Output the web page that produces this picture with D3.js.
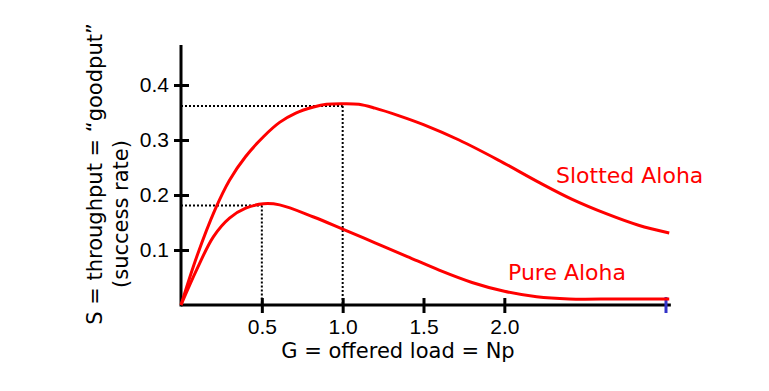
<!DOCTYPE html>
<html>
<head>
<meta charset="utf-8">
<script src="https://cdn.jsdelivr.net/npm/d3@7/dist/d3.min.js"></script>
<style>
body{margin:0;background:#fff;}
</style>
</head>
<body>
<svg id="chart" width="769" height="391"></svg>
<script>
// values
var slottedG = [0,0.1,0.21,0.3,0.4,0.51,0.61,0.71,0.82,0.9,1.0,1.1,1.2,1.35,1.5,1.72,1.96,2.22,2.42,2.63,2.83,3.02];
var slottedS = [0,0.09,0.173,0.227,0.27,0.306,0.332,0.349,0.36,0.365,0.366,0.365,0.358,0.344,0.328,0.3,0.264,0.222,0.192,0.166,0.145,0.131];
var pureG = [0,0.1,0.2,0.3,0.4,0.51,0.61,0.82,1.0,1.2,1.4,1.6,1.8,2.0,2.2,2.4,2.7,3.02];
var pureS = [0,0.066,0.124,0.158,0.176,0.184,0.182,0.16,0.138,0.113,0.088,0.063,0.041,0.025,0.015,0.011,0.011,0.011];
var xTicks = [0.5,1.0,1.5,2.0];
var xTickLabels = ["0.5","1.0","1.5","2.0"];
var yTicks = [0.1,0.2,0.3,0.4];
var yTickLabels = ["0.1","0.2","0.3","0.4"];
var peakG = [1.0,0.5];
var peakS = [0.362,0.181];
var endMark = 3.0;

var svg = d3.select("#chart");

var x = d3.scaleLinear().domain([0,3]).range([181,666]);
var y = d3.scaleLinear().domain([0,0.4]).range([305,85]);

// dotted guides to the maxima
var guides = svg.append("g")
	.attr("stroke","#000")
	.attr("stroke-width",2)
	.attr("stroke-dasharray","2,2")
	.attr("fill","none");
for(var i=0;i<peakG.length;i++){
	guides.append("line")
		.attr("x1",x(0)).attr("y1",y(peakS[i]))
		.attr("x2",x(peakG[i])).attr("y2",y(peakS[i]));
	guides.append("line")
		.attr("x1",x(peakG[i])).attr("y1",y(peakS[i]))
		.attr("x2",x(peakG[i])).attr("y2",y(0));
}

// axes
var xAxis = d3.axisBottom(x).tickValues(xTicks).tickSize(0)
	.tickFormat(function(d,i){ return xTickLabels[i]; });
var yAxis = d3.axisLeft(y).tickValues(yTicks).tickSize(0)
	.tickFormat(function(d,i){ return yTickLabels[i]; });

var gx = svg.append("g").attr("transform","translate(0,"+y(0)+")").call(xAxis);
var gy = svg.append("g").attr("transform","translate("+x(0)+",0)").call(yAxis);

gx.select(".domain").remove();
gy.select(".domain").remove();
gx.attr("font-size",null).attr("font-family",null);
gy.attr("font-size",null).attr("font-family",null);

gx.selectAll(".tick line")
	.attr("y1",-7).attr("y2",8)
	.attr("stroke","#000").attr("stroke-width",3);
gy.selectAll(".tick line")
	.attr("x1",-7).attr("x2",8)
	.attr("stroke","#000").attr("stroke-width",3);

gx.selectAll(".tick text")
	.style("font-family","'Liberation Sans', Arial, sans-serif")
	.style("font-size","21px")
	.attr("fill","#000")
	.attr("y",29).attr("dy",null);
gy.selectAll(".tick text")
	.style("font-family","'Liberation Sans', Arial, sans-serif")
	.style("font-size","21px")
	.attr("fill","#000")
	.attr("x",-12);

svg.append("line")
	.attr("x1",x(0)).attr("y1",y(0))
	.attr("x2",x(3.03)).attr("y2",y(0))
	.attr("stroke","#000").attr("stroke-width",3);
svg.append("line")
	.attr("x1",x(0)).attr("y1",y(0)+1.5)
	.attr("x2",x(0)).attr("y2",45)
	.attr("stroke","#000").attr("stroke-width",3);

// blue end tick
svg.append("line")
	.attr("x1",x(endMark)).attr("y1",y(0)-8)
	.attr("x2",x(endMark)).attr("y2",y(0)+8)
	.attr("stroke","#3333c8").attr("stroke-width",3);

// curves
var line = d3.line()
	.x(function(d){ return x(d[0]); })
	.y(function(d){ return y(d[1]); })
	.curve(d3.curveCatmullRom.alpha(0.5));

var slotted = slottedG.map(function(g,i){ return [g,slottedS[i]]; });
var pure = pureG.map(function(g,i){ return [g,pureS[i]]; });

svg.append("path").datum(slotted)
	.attr("d",line).attr("fill","none")
	.attr("stroke","#ff0000").attr("stroke-width",3);
svg.append("path").datum(pure)
	.attr("d",line).attr("fill","none")
	.attr("stroke","#ff0000").attr("stroke-width",3);

// curve names and axis titles
function title(txt,size,color){
	return svg.append("text")
		.style("font-family","'DejaVu Sans', sans-serif")
		.style("font-size",size+"px")
		.attr("fill",color)
		.text(txt);
}

title("Slotted Aloha",22,"#ff0000").attr("x",556).attr("y",183);
title("Pure Aloha",22,"#ff0000").attr("x",508).attr("y",280);

title("G = offered load = Np",21,"#000")
	.attr("x",398).attr("y",358)
	.attr("text-anchor","middle");

title("S = throughput = \u201cgoodput\u201d",21,"#000")
	.attr("transform","translate(102,174) rotate(-90)")
	.attr("text-anchor","middle");
title("(success rate)",21,"#000")
	.attr("transform","translate(128,214) rotate(-90)")
	.attr("text-anchor","middle");
</script>
</body>
</html>
